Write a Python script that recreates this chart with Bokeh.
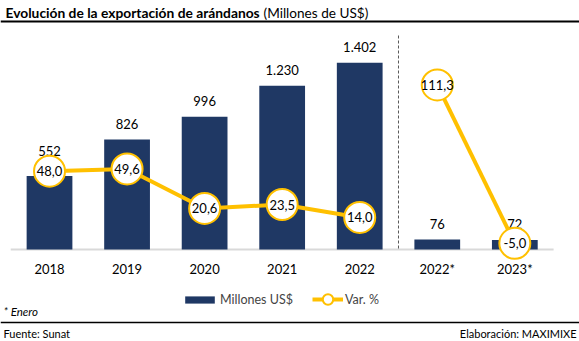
from bokeh.plotting import figure
from bokeh.models import Range1d, Legend, LegendItem, ColumnDataSource
from bokeh.core.properties import value
from bokeh.embed import file_html
from bokeh.resources import INLINE

# ---- data ----
categories = ["2018", "2019", "2020", "2021", "2022", "2022*", "2023*"]
exports_musd = [552, 826, 996, 1230, 1402, 76, 72]
var_pct = [48.0, 49.6, 20.6, 23.5, 14.0, 111.3, -5.0]

title_bold = "Evolución de la exportación de arándanos"
title_unit = "(Millones de US$)"
note_text = "* Enero"
source_text = "Fuente: Sunat"
credit_text = "Elaboración: MAXIMIXE"
legend_bar = "Millones US$"
legend_line = "Var. %"

# ---- style ----
FONT = "Lato"
NAVY = "#1F3864"
GOLD = "#FFC000"
W, H = 579, 341

xs = list(range(len(categories)))
bar_labels = [f"{v:,}".replace(",", ".") for v in exports_musd]
pct_labels = [f"{v:.1f}".replace(".", ",") for v in var_pct]
label_dy = [-25, -15.5, -15.5, -15.5, -15.5, -15.5, -15.5]

src = ColumnDataSource(dict(x=xs, cat=categories, v=exports_musd, blab=bar_labels,
                            dy=label_dy, pct=var_pct, plab=pct_labels,
                            ty=[268] * len(xs)))

p = figure(width=W, height=H, output_backend="svg", toolbar_location=None,
           x_range=Range1d(-0.632, 6.834), y_range=Range1d(-690.8, 1869.8),
           min_border=0, outline_line_color=None, background_fill_color="white",
           border_fill_color="white")
p.axis.visible = False
p.grid.visible = False
p.extra_y_ranges = {"pct": Range1d(-77.1, 173.3), "px": Range1d(H, 0)}
p.extra_x_ranges = {"px": Range1d(0, W)}

# baseline
p.segment(x0=-0.5, x1=6.5, y0=0, y1=0, line_color="#D9D9D9", line_width=2)

# bars
bars = p.vbar(x="x", top="v", width=0.59, bottom=0, source=src, fill_color=NAVY, line_color=None)
p.text(x="x", y="v", text="blab", y_offset="dy", source=src, text_align="center",
       text_baseline="middle", text_font=value(FONT), text_font_size="13px", text_color="black")

# separator
p.segment(x0=4.5, x1=4.5, y0=35, y1=249, y_range_name="px", line_color="#595959",
          line_width=1, line_dash="3 2")

# var % line (two separate segments: annual and January)
n_year = 5
l1 = p.line(xs[:n_year], var_pct[:n_year], y_range_name="pct", line_color=GOLD, line_width=4)
l2 = p.line(xs[n_year:], var_pct[n_year:], y_range_name="pct", line_color=GOLD, line_width=4)
circ = p.scatter(x="x", y="pct", source=src, y_range_name="pct", marker="circle", size=31,
                 fill_color="white", line_color=GOLD, line_width=2)
p.text(x="x", y="pct", text="plab", source=src, y_range_name="pct", text_align="center",
       text_baseline="middle", text_font=value(FONT), text_font_size="13px", text_color="black")

# category labels
p.text(x="x", y="ty", text="cat", source=src,
       y_range_name="px", text_align="center", text_baseline="middle",
       text_font=value(FONT), text_font_size="13px", text_color="black")

# title + rules
p.text(x=[5], y=[12], text=[title_bold], x_range_name="px", y_range_name="px",
       text_baseline="middle", text_font=value(FONT), text_font_size="13.8px",
       text_font_style="bold", text_color="black")
p.text(x=[263], y=[12], text=[title_unit], x_range_name="px", y_range_name="px",
       text_baseline="middle", text_font=value(FONT), text_font_size="13.6px", text_color="black")
p.segment(x0=[0, 0], x1=[W, W], y0=[21, 322], y1=[21, 322], x_range_name="px",
          y_range_name="px", line_color="black", line_width=[2, 1.5])

# footers
p.text(x=[3], y=[311], text=[note_text], x_range_name="px", y_range_name="px",
       text_baseline="middle", text_font=value(FONT), text_font_size="11.5px",
       text_font_style="italic", text_color="black")
p.text(x=[3], y=[333], text=[source_text], x_range_name="px", y_range_name="px",
       text_baseline="middle", text_font=value(FONT), text_font_size="11px", text_color="black")
p.text(x=[576], y=[333], text=[credit_text], x_range_name="px", y_range_name="px",
       text_align="right", text_baseline="middle", text_font=value(FONT),
       text_font_size="11px", text_color="black")

# legends
common = dict(padding=0, margin=0, spacing=0, border_line_color=None,
              background_fill_alpha=0, label_text_font=FONT, label_text_font_size="12.5px",
              label_standoff=2, label_height=20, orientation="horizontal")
leg_a = Legend(items=[LegendItem(label=legend_bar, renderers=[bars])], location=(181, 32),
               glyph_width=37, glyph_height=9, **common)
leg_b = Legend(items=[LegendItem(label=legend_line, renderers=[l1, circ])], location=(312, 29),
               glyph_width=31, glyph_height=26, **common)
p.add_layout(leg_a)
p.add_layout(leg_b)

open("out.html", "w").write(file_html(p, INLINE))
